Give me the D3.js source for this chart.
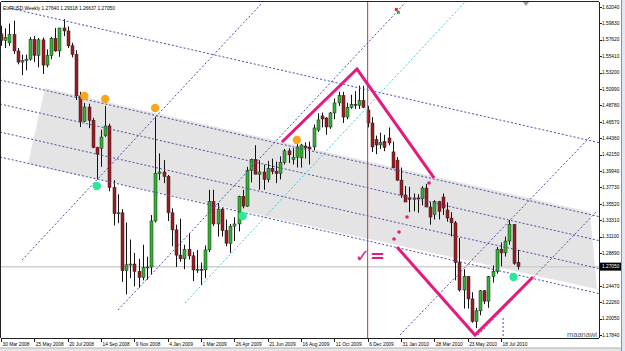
<!DOCTYPE html>
<html><head><meta charset="utf-8">
<script src="https://cdn.jsdelivr.net/npm/d3@7/dist/d3.min.js"></script>
<style>body{margin:0;background:#fff;overflow:hidden}svg{display:block}</style>
</head><body>
<script>
// ---- weekly EURUSD candles (week index 0 = 30 Mar 2008) ----
const opens = [1.5840,1.5750,1.5720,1.5830,1.5610,1.5460,1.5480,1.5500,1.5765,1.5550,1.5760,1.5420,1.5550,1.5780,1.5610,1.5920,1.5880,1.5680,1.5565,1.5005,
1.4660,1.4855,1.4675,1.4310,1.4300,1.4470,1.4600,1.3770,1.3420,1.3430,1.2650,1.2730,1.2740,1.2640,1.2560,1.2690,1.2700,1.3320,1.3960,1.3980,
1.3920,1.3430,1.3200,1.2860,1.2810,1.2940,1.2850,1.2660,1.2670,1.2660,1.2930,1.3580,1.3280,1.3480,1.3190,1.3020,1.3250,1.3280,1.3650,1.3520,
1.4000,1.4150,1.3950,1.3980,1.3880,1.4030,1.3990,1.3960,1.4110,1.4265,1.4150,1.4180,1.4170,1.4330,1.4317,1.4317,1.4546,1.4735,1.4707,1.4586,
1.4775,1.4910,1.5010,1.4720,1.4850,1.4890,1.4880,1.4940,1.4815,1.4640,1.4420,1.4344,1.4390,1.4438,1.4250,1.4140,1.3870,1.3670,1.3630,1.3610,
1.3630,1.3620,1.3764,1.3508,1.3410,1.3580,1.3643,1.3468,1.3360,1.3295,1.2760,1.2390,1.2570,1.2270,1.1965,1.2110,1.2380,1.2240,1.2570,1.2640,
1.2940,1.2890,1.3050,1.3270,1.2764];
const highs = [1.5950,1.5915,1.5980,1.6019,1.5650,1.5560,1.5560,1.5800,1.5810,1.5785,1.5790,1.5630,1.5800,1.5920,1.5920,1.6038,1.5940,1.5720,1.5620,1.5060,
1.4910,1.4900,1.4710,1.4320,1.4550,1.4867,1.4630,1.3870,1.3680,1.3480,1.3300,1.3070,1.2890,1.2810,1.3000,1.2840,1.3400,1.4720,1.4230,1.4140,
1.3940,1.3490,1.3270,1.3350,1.3000,1.3160,1.2900,1.2930,1.2760,1.2990,1.3740,1.3740,1.3560,1.3500,1.3340,1.3280,1.3370,1.3660,1.3740,1.4050,
1.4160,1.4340,1.4140,1.4080,1.4130,1.4160,1.4120,1.4190,1.4290,1.4300,1.4300,1.4440,1.4360,1.4380,1.4390,1.4620,1.4770,1.4780,1.4720,1.4790,
1.4970,1.5060,1.5060,1.4910,1.5020,1.5070,1.5144,1.5140,1.4870,1.4720,1.4470,1.4510,1.4480,1.4580,1.4390,1.4180,1.4040,1.3790,1.3780,1.3690,
1.3680,1.3790,1.3820,1.3580,1.3600,1.3590,1.3690,1.3570,1.3440,1.3320,1.3090,1.2670,1.2580,1.2360,1.2150,1.2390,1.2390,1.2580,1.2720,1.2970,
1.3030,1.3110,1.3333,1.3280,1.2932];
const lows = [1.5680,1.5650,1.5680,1.5570,1.5430,1.5285,1.5350,1.5480,1.5460,1.5390,1.5300,1.5390,1.5500,1.5600,1.5530,1.5810,1.5650,1.5525,1.4950,1.4585,
1.4650,1.4570,1.4300,1.3880,1.4050,1.4450,1.3720,1.3260,1.3290,1.2500,1.2330,1.2550,1.2440,1.2420,1.2520,1.2530,1.2600,1.3300,1.3870,1.3830,
1.3320,1.2980,1.2700,1.2770,1.2670,1.2800,1.2510,1.2620,1.2457,1.2550,1.2900,1.3250,1.3110,1.3110,1.2980,1.2890,1.3050,1.3180,1.3490,1.3510,
1.3840,1.3960,1.3740,1.3740,1.3840,1.3950,1.3830,1.3880,1.4080,1.4100,1.4080,1.4040,1.4040,1.4160,1.4080,1.4270,1.4520,1.4580,1.4480,1.4560,
1.4690,1.4870,1.4640,1.4690,1.4830,1.4830,1.4830,1.4840,1.4580,1.4250,1.4220,1.4290,1.4260,1.4340,1.4030,1.3860,1.3630,1.3580,1.3440,1.3450,
1.3430,1.3530,1.3510,1.3270,1.3340,1.3340,1.3400,1.3310,1.3110,1.2520,1.2370,1.2140,1.2140,1.1950,1.1876,1.2050,1.2200,1.2150,1.2490,1.2610,
1.2710,1.2840,1.3000,1.2730,1.2664];
const closes = [1.5750,1.5790,1.5830,1.5610,1.5460,1.5480,1.5500,1.5765,1.5550,1.5760,1.5420,1.5550,1.5780,1.5610,1.5920,1.5880,1.5680,1.5565,1.5005,1.4660,
1.4855,1.4675,1.4310,1.4220,1.4450,1.4600,1.3770,1.3420,1.3430,1.2650,1.2730,1.2740,1.2640,1.2560,1.2690,1.2700,1.3320,1.3960,1.3980,1.3920,
1.3430,1.3200,1.2860,1.2810,1.2940,1.2850,1.2660,1.2670,1.2660,1.2930,1.3580,1.3280,1.3480,1.3190,1.3020,1.3250,1.3280,1.3650,1.3520,1.4000,
1.4150,1.3950,1.3980,1.3880,1.4030,1.3990,1.3960,1.4110,1.4265,1.4210,1.4175,1.4317,1.4344,1.4303,1.4290,1.4573,1.4681,1.4694,1.4586,1.4775,
1.4910,1.5010,1.4720,1.4850,1.4890,1.4880,1.4940,1.4850,1.4640,1.4317,1.4344,1.4380,1.4310,1.4371,1.4034,1.3870,1.3670,1.3575,1.3610,1.3630,
1.3620,1.3764,1.3508,1.3373,1.3580,1.3450,1.3494,1.3360,1.3295,1.2760,1.2390,1.2570,1.2270,1.1965,1.2110,1.2380,1.2240,1.2570,1.2640,1.2940,
1.2890,1.3050,1.3270,1.2750,1.2705];

// ---- axes ----
const priceTicks = [1.17840,1.20050,1.22260,1.24470,1.26680,1.28890,1.31100,1.33310,1.35520,1.37730,1.39940,1.42150,1.44360,1.46570,1.48780,1.50990,1.53200,1.55410,1.57620,1.59830,1.62040];
const dateTickWeeks = [0,8,16,24,32,40,48,56,64,72,80,88,96,104,112,120];
const dateTickLabels = ["30 Mar 2008","25 May 2008","20 Jul 2008","14 Sep 2008","9 Nov 2008","4 Jan 2009","1 Mar 2009","26 Apr 2009","21 Jun 2009","16 Aug 2009","11 Oct 2009","6 Dec 2009","31 Jan 2010","28 Mar 2010","23 May 2010","18 Jul 2010"];
const headerText = "EURUSD,Weekly  1.27640 1.29318 1.26637 1.27050";
const lastPrice = 1.27050;

// ---- drawn objects, in (week index, price) ----
const bandPoly = [[10.56,1.5111],[141.36,1.3441],[143.04,1.2404],[6.48,1.4087]];
const downLines = [
  [[1.68,1.6191],[143.5,1.4376]],
  [[-0.24,1.5219],[143.5,1.3379]],
  [[-0.24,1.4896],[143.5,1.3056]],
  [[-0.24,1.4518],[143.5,1.2678]],
  [[-0.24,1.4182],[143.5,1.2342]]
];
const upLines = [
  [[5.04,1.2794],[62.64,1.6256]],
  [[28.08,1.2121],[96.96,1.6256]],
  [[95.76,1.1784],[141.36,1.4451]],
  [[114.5,1.1784],[143.04,1.3454]]
];
const cyanLine = [[44.16,1.2215],[111.36,1.6270]];
const magentaTop = [[67.44,1.4384],[85.44,1.5367],[103.92,1.3899]];
const magentaBottom = [[95.04,1.2969],[113.76,1.1784],[127.68,1.2565]];
const magentaDots = [[102.72,1.3831],[97.44,1.3373],[95.52,1.3171],[94.32,1.3077]];
const orangeDots = [[20,1.5004],[25,1.4963],[37,1.4842],[71,1.4411]];
const greenDots = [[23,1.3791],[58,1.3387],[123,1.2565]];
const vLineWeek = 88;
const markText = {w:84.96, p:1.2767, t:"\u2713="};

const W = 625, H = 351;
const L = 1, R = 599, T = 2, B = 338;
const x = d3.scaleLinear().domain([0,120]).range([1,501]);
const y = d3.scaleLinear().domain([1.1784,1.5320]).range([335,72.5]);

const svg = d3.select("body").append("svg").attr("width",W).attr("height",H)
  .style("font-family","'Liberation Sans', Arial, sans-serif");
svg.append("rect").attr("width",W).attr("height",H).attr("fill","#fff");
svg.append("defs").append("clipPath").attr("id","clip").append("rect")
  .attr("x",L).attr("y",T).attr("width",R-L).attr("height",B-T);
const g = svg.append("g").attr("clip-path","url(#clip)");

const line = d3.line().x(d=>x(d[0])).y(d=>y(d[1]));

// band
g.append("path").attr("d", line(bandPoly)+"Z").attr("fill","#e4e4e4");
// last price line
g.append("line").attr("x1",L).attr("x2",R).attr("y1",y(lastPrice)).attr("y2",y(lastPrice))
  .attr("stroke","#d0d0d0").attr("stroke-width",1.5);

// candles
const idx = d3.range(opens.length);
g.selectAll(".wick").data(idx).join("line").attr("class","wick")
  .attr("x1",i=>Math.round(x(i))+0.5).attr("x2",i=>Math.round(x(i))+0.5)
  .attr("y1",i=>y(highs[i])).attr("y2",i=>y(lows[i]))
  .attr("stroke","#111").attr("stroke-width",1);
g.selectAll(".body").data(idx).join("rect").attr("class","body")
  .attr("x",i=>Math.round(x(i))-1).attr("width",3)
  .attr("y",i=>y(Math.max(opens[i],closes[i])))
  .attr("height",i=>Math.max(1,Math.abs(y(opens[i])-y(closes[i]))))
  .attr("fill",i=>closes[i]>=opens[i]?"#2fb52f":"#9e1a1f")
  .attr("stroke","#222").attr("stroke-width",0.5);

// trend lines
downLines.concat(upLines).forEach(l=>{
  g.append("path").attr("d",line(l)).attr("fill","none")
   .attr("stroke","#4c4ca8").attr("stroke-width",1).attr("stroke-dasharray","2,2");
});
g.append("path").attr("d",line(cyanLine)).attr("fill","none")
  .attr("stroke","#3cc8e0").attr("stroke-width",1).attr("stroke-dasharray","2,2");
// vertical red line
g.append("line").attr("x1",x(vLineWeek)).attr("x2",x(vLineWeek)).attr("y1",T).attr("y2",B)
  .attr("stroke","#c0392b").attr("stroke-width",1);
// small dotted vertical
g.append("line").attr("x1",x(120.5)).attr("x2",x(120.5)).attr("y1",y(1.2013)).attr("y2",B)
  .attr("stroke","#4c4ca8").attr("stroke-dasharray","2,2");

// magenta
[magentaTop, magentaBottom].forEach(l=>{
  g.append("path").attr("d",line(l)).attr("fill","none")
   .attr("stroke","#e8197d").attr("stroke-width",3).attr("stroke-linejoin","miter");
});
g.selectAll(".md").data(magentaDots).join("circle").attr("class","md")
  .attr("cx",d=>x(d[0])).attr("cy",d=>y(d[1])).attr("r",1.8).attr("fill","#e8197d");
g.append("text").attr("x",x(markText.w)).attr("y",y(markText.p))
  .attr("font-size",18).attr("font-weight","bold").attr("fill","#e8197d")
  .attr("font-family","'DejaVu Sans', sans-serif").text(markText.t);

g.selectAll(".od").data(orangeDots).join("circle").attr("class","od")
  .attr("cx",d=>x(d[0])).attr("cy",d=>y(d[1])).attr("r",4.2).attr("fill","#f5a81c");
g.selectAll(".gd").data(greenDots).join("circle").attr("class","gd")
  .attr("cx",d=>x(d[0])).attr("cy",d=>y(d[1])).attr("r",4.2).attr("fill","#2ee89a");

// small arrow object near top
g.append("rect").attr("x",x(95)-2).attr("y",y(1.6190)).attr("width",3).attr("height",3).attr("fill","#d03030");
g.append("rect").attr("x",x(95)).attr("y",y(1.6150)).attr("width",3).attr("height",3).attr("fill","#30b030");

// header
svg.append("text").attr("x",3).attr("y",10).attr("font-size",4.8).attr("fill","#000").text(headerText);

// frame
svg.append("line").attr("x1",L).attr("x2",R).attr("y1",T-0.5).attr("y2",T-0.5).attr("stroke","#222");
svg.append("line").attr("x1",L-0.5).attr("x2",L-0.5).attr("y1",T).attr("y2",B).attr("stroke","#222");
svg.append("line").attr("x1",L).attr("x2",R).attr("y1",B+0.5).attr("y2",B+0.5).attr("stroke","#222");
svg.append("line").attr("x1",R+0.5).attr("x2",R+0.5).attr("y1",T).attr("y2",B).attr("stroke","#222");
// chart shift marker
svg.append("path").attr("d",`M${x(126)-3},${T} L${x(126)+3},${T} L${x(126)},${T+4}Z`).attr("fill","#999");

// price axis
const yTicks = priceTicks.filter(p=>Math.abs(y(p)-y(lastPrice))>6);
svg.selectAll(".yt").data(priceTicks).join("line").attr("class","yt")
  .attr("x1",R).attr("x2",R+3).attr("y1",p=>Math.round(y(p))+0.5).attr("y2",p=>Math.round(y(p))+0.5).attr("stroke","#222");
svg.selectAll(".yl").data(yTicks).join("text").attr("class","yl")
  .attr("x",R+3).attr("y",p=>y(p)+1.8).attr("font-size",4.8).attr("fill","#000")
  .text(p=>p.toFixed(5));
svg.append("rect").attr("x",R+1).attr("y",y(lastPrice)-4).attr("width",23).attr("height",8).attr("fill","#000");
svg.append("text").attr("x",R+3).attr("y",y(lastPrice)+1.8).attr("font-size",4.8).attr("fill","#fff").text(lastPrice.toFixed(5));

// date axis
svg.selectAll(".xt").data(dateTickWeeks).join("line").attr("class","xt")
  .attr("x1",w=>Math.round(x(w))+0.5).attr("x2",w=>Math.round(x(w))+0.5).attr("y1",B).attr("y2",B+4).attr("stroke","#222");
svg.selectAll(".xl").data(dateTickWeeks).join("text").attr("class","xl")
  .attr("x",w=>x(w)+1.5).attr("y",B+8).attr("font-size",4.8).attr("fill","#000")
  .text((w,k)=>dateTickLabels[k]);

// watermark
svg.append("text").attr("x",R-2).attr("y",B-1).attr("text-anchor","end").attr("font-size",7.5)
  .attr("fill","#4d5d70").text("maanawi");

// window edges
svg.append("rect").attr("x",0).attr("y",348).attr("width",W).attr("height",3).attr("fill","#e6e6e6");
svg.append("line").attr("x1",0).attr("x2",W).attr("y1",348).attr("y2",348).attr("stroke","#b0b0b0");
svg.append("rect").attr("x",621).attr("y",0).attr("width",4).attr("height",H).attr("fill","#dfe7f0");
svg.append("line").attr("x1",621.5).attr("x2",621.5).attr("y1",0).attr("y2",H).attr("stroke","#7f93ad");
</script>
</body></html>
